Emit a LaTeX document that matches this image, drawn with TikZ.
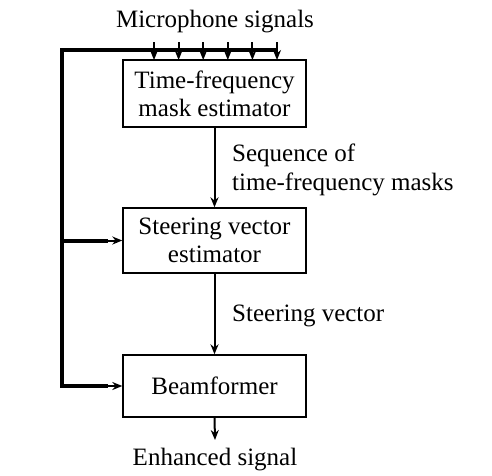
\documentclass[tikz,border=0pt]{standalone}
\usepackage{fontspec}
\setmainfont{Liberation Serif}
\usetikzlibrary{arrows.meta,positioning}
\tikzset{
  bf text/.style={font=\fontsize{25}{29}\selectfont},
  bf block/.style={draw, line width=1.4pt, fill=white, minimum width=183pt,
    minimum height=65pt, align=center, bf text},
  bf arrow/.style={-{Stealth[length=10pt,width=8pt]}, line width=2pt},
  bf bus/.style={line width=4pt},
  bf label/.style={bf text, align=left, anchor=west, inner sep=0pt}
}
\begin{document}
\begin{tikzpicture}[x=1pt, y=-1pt]
  \useasboundingbox (0,0) rectangle (492,475);
  \node[bf block, minimum height=67pt] (mask) at (214.5,93.5) {Time-frequency\\[-1pt]mask estimator};
  \node[bf block] (steer) at (214.5,240.5) {Steering vector\\[-1pt]estimator};
  \node[bf block, minimum height=62pt] (beam) at (214.5,386) {Beamformer};
  \node[bf text, inner sep=0pt] (mic) at (215,22) {Microphone signals};
  \node[bf label] (seq) at (232,170) {Sequence of\\time-frequency masks};
  \node[bf label] (svlab) at (232,316) {Steering vector};
  \node[bf text, inner sep=0pt] (out) at (215,460) {Enhanced signal};
  \coordinate (busend) at (277,50);
  \coordinate (buscorner) at (62,50);
  \coordinate (busfoot) at (62,386);
  \coordinate (bustap) at (62,240.5);
  \coordinate (outend) at (215,440);
  \draw[bf bus, line cap=butt] (busend) -- (buscorner) -- (busfoot) -- ([xshift=-14pt]beam.west);
  \draw[bf bus, line cap=butt] (bustap) -- ([xshift=-14pt]steer.west);
  \draw[bf arrow] ([xshift=-16pt]steer.west) -- (steer.west);
  \draw[bf arrow] ([xshift=-16pt]beam.west) -- (beam.west);
  \foreach \k in {0,...,5}{
    \draw[bf arrow] (154+24.6*\k,42) -- (154+24.6*\k,60);
  }
  \draw[bf arrow] (mask.south) -- (steer.north);
  \draw[bf arrow] (steer.south) -- (beam.north);
  \draw[bf arrow] (beam.south) -- (outend);
\end{tikzpicture}
\end{document}
